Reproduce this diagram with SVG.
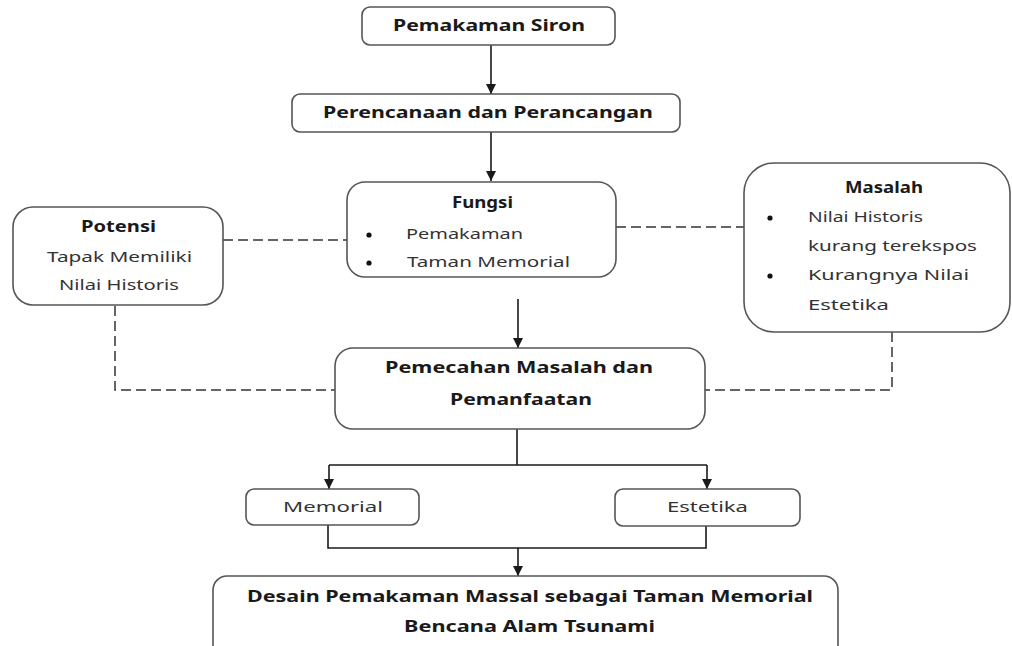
<svg xmlns="http://www.w3.org/2000/svg" width="1012" height="646" viewBox="0 0 1012 646">
<style>
.box{fill:#fff;stroke:#555;stroke-width:1.6}
.b{font-family:"Noto Sans","Open Sans",sans-serif;font-weight:bold;font-size:16px;fill:#1a1a1a}
.r{font-family:"Noto Sans","Open Sans",sans-serif;font-size:15px;fill:#333}
.ln{fill:none;stroke:#1a1a1a;stroke-width:1.6}
.dash{fill:none;stroke:#333;stroke-width:1.5;stroke-dasharray:10 5}
.dot{fill:#111}
</style>
<defs>
<marker id="arr" viewBox="0 0 10 10" refX="10" refY="5" markerWidth="10" markerHeight="10" markerUnits="userSpaceOnUse" orient="auto">
<path d="M0,0 L10,5 L0,10 Z" fill="#1a1a1a"/>
</marker>
</defs>
<rect width="1012" height="646" fill="#fff"/>
<g id="connectors">
<line class="ln" x1="491" y1="45" x2="491" y2="94" marker-end="url(#arr)"/>
<line class="ln" x1="491" y1="132" x2="491" y2="181" marker-end="url(#arr)"/>
<line class="ln" x1="518" y1="299" x2="518" y2="348" marker-end="url(#arr)"/>
<polyline class="ln" points="517,429 517,465"/>
<polyline class="ln" points="329,465 707,465"/>
<line class="ln" x1="329" y1="465" x2="329" y2="489" marker-end="url(#arr)"/>
<line class="ln" x1="707" y1="465" x2="707" y2="489" marker-end="url(#arr)"/>
<polyline class="ln" points="328,525 328,548 706,548 706,526"/>
<line class="ln" x1="518" y1="548" x2="518" y2="576" marker-end="url(#arr)"/>
<line class="dash" x1="223" y1="240" x2="347" y2="240"/>
<line class="dash" x1="616" y1="227" x2="744" y2="227"/>
<polyline class="dash" points="115,306 115,390 335,390"/>
<polyline class="dash" points="892,332 892,390 705,390"/>
</g>
<g id="pemakaman-siron">
<rect class="box" x="362" y="7" width="253" height="38" rx="8"/>
<text class="b" x="489" y="31" text-anchor="middle" textLength="192" lengthAdjust="spacingAndGlyphs">Pemakaman Siron</text>
</g>
<g id="perencanaan">
<rect class="box" x="292" y="94" width="388" height="38" rx="8"/>
<text class="b" x="488" y="118" text-anchor="middle" textLength="330" lengthAdjust="spacingAndGlyphs">Perencanaan dan Perancangan</text>
</g>
<g id="fungsi">
<rect class="box" x="347" y="182" width="269" height="95" rx="18"/>
<text class="b" x="482.5" y="208" text-anchor="middle" textLength="61" lengthAdjust="spacingAndGlyphs">Fungsi</text>
<circle class="dot" cx="369" cy="235" r="2.6"/>
<text class="r" x="406" y="239" textLength="117" lengthAdjust="spacingAndGlyphs">Pemakaman</text>
<circle class="dot" cx="369" cy="263" r="2.6"/>
<text class="r" x="407" y="267" textLength="163" lengthAdjust="spacingAndGlyphs">Taman Memorial</text>
</g>
<g id="potensi">
<rect class="box" x="13" y="207" width="210" height="98" rx="20"/>
<text class="b" x="118.5" y="232" text-anchor="middle" textLength="75" lengthAdjust="spacingAndGlyphs">Potensi</text>
<text class="r" x="119.5" y="262" text-anchor="middle" textLength="145" lengthAdjust="spacingAndGlyphs">Tapak Memiliki</text>
<text class="r" x="119" y="290" text-anchor="middle" textLength="120" lengthAdjust="spacingAndGlyphs">Nilai Historis</text>
</g>
<g id="masalah">
<rect class="box" x="744" y="163" width="266" height="169" rx="30"/>
<text class="b" x="884" y="193" text-anchor="middle" textLength="78" lengthAdjust="spacingAndGlyphs">Masalah</text>
<circle class="dot" cx="770" cy="218" r="2.6"/>
<text class="r" x="808" y="222" textLength="115" lengthAdjust="spacingAndGlyphs">Nilai Historis</text>
<text class="r" x="808" y="251" textLength="169" lengthAdjust="spacingAndGlyphs">kurang terekspos</text>
<circle class="dot" cx="770" cy="276" r="2.6"/>
<text class="r" x="808" y="280" textLength="161" lengthAdjust="spacingAndGlyphs">Kurangnya Nilai</text>
<text class="r" x="808" y="310" textLength="81" lengthAdjust="spacingAndGlyphs">Estetika</text>
</g>
<g id="pemecahan">
<rect class="box" x="335" y="348" width="370" height="81" rx="18"/>
<text class="b" x="519" y="373" text-anchor="middle" textLength="268" lengthAdjust="spacingAndGlyphs">Pemecahan Masalah dan</text>
<text class="b" x="521" y="405" text-anchor="middle" textLength="142" lengthAdjust="spacingAndGlyphs">Pemanfaatan</text>
</g>
<g id="memorial">
<rect class="box" x="246" y="489" width="173" height="36" rx="8"/>
<text class="r" x="333" y="512" text-anchor="middle" textLength="100" lengthAdjust="spacingAndGlyphs">Memorial</text>
</g>
<g id="estetika">
<rect class="box" x="615" y="489" width="185" height="37" rx="8"/>
<text class="r" x="707.5" y="512" text-anchor="middle" textLength="81" lengthAdjust="spacingAndGlyphs">Estetika</text>
</g>
<g id="desain">
<rect class="box" x="213" y="576" width="625" height="86" rx="14"/>
<text class="b" x="530" y="602" text-anchor="middle" textLength="566" lengthAdjust="spacingAndGlyphs">Desain Pemakaman Massal sebagai Taman Memorial</text>
<text class="b" x="529.5" y="632" text-anchor="middle" textLength="251" lengthAdjust="spacingAndGlyphs">Bencana Alam Tsunami</text>
</g>
</svg>
